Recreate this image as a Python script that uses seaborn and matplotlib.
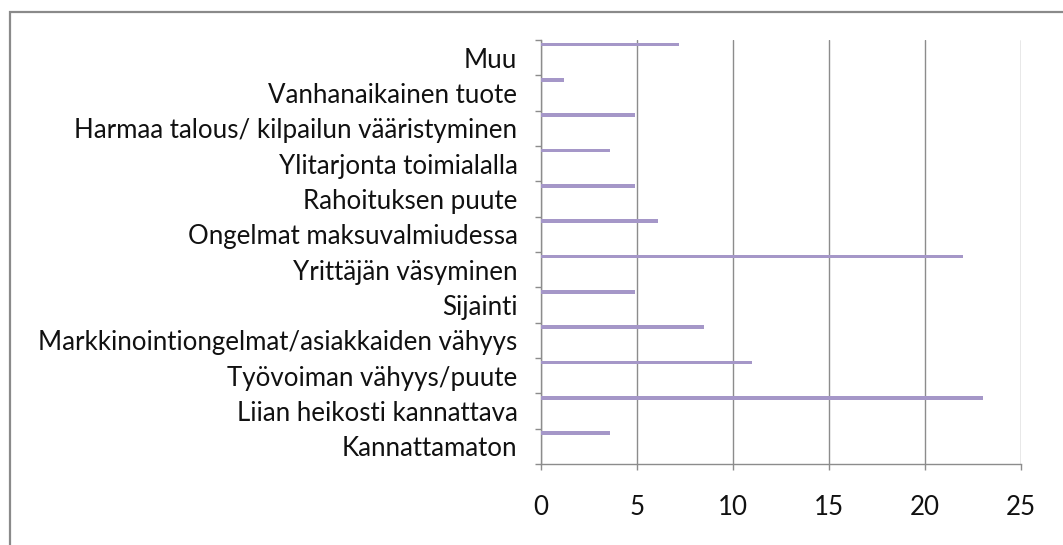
import matplotlib
matplotlib.use("Agg")
import matplotlib.pyplot as plt
from matplotlib.patches import Rectangle
from matplotlib.ticker import FixedLocator, NullFormatter
import pandas as pd
import seaborn as sns

# Reasons for closing down the business (share of respondents, %)
categories = [
    "Muu",
    "Vanhanaikainen tuote",
    "Harmaa talous/ kilpailun vääristyminen",
    "Ylitarjonta toimialalla",
    "Rahoituksen puute",
    "Ongelmat maksuvalmiudessa",
    "Yrittäjän väsyminen",
    "Sijainti",
    "Markkinointiongelmat/asiakkaiden vähyys",
    "Työvoiman vähyys/puute",
    "Liian heikosti kannattava",
    "Kannattamaton",
]
values = [7.2, 1.2, 4.9, 3.6, 4.9, 6.1, 22.0, 4.9, 8.5, 11.0, 23.0, 3.6]
x_ticks = [0, 5, 10, 15, 20, 25]

sns.set_theme(style="white")
plt.rcParams["font.family"] = ["Lato", "DejaVu Sans"]

BAR_COLOR = "#A597C8"
GRID_COLOR = "#8C8C8C"
TEXT_COLOR = "#111111"
FONT_SIZE = 18.6

W, H = 1063, 545
fig = plt.figure(figsize=(W / 100, H / 100), dpi=100)
fig.patch.set_facecolor("white")

# outer chart frame (only the top and left edges fall inside the image)
fig.patches.append(Rectangle((9.5 / W, -0.2), 2.0, 1.2 - 11.5 / H,
                             transform=fig.transFigure, fill=False,
                             edgecolor="#8A8A8A", linewidth=1.6, zorder=0))

left, right = 541 / W, 1021 / W
top, bottom = 1 - 40 / H, 1 - 464 / H
ax = fig.add_axes([left, bottom, right - left, top - bottom])

df = pd.DataFrame({"reason": categories, "share": values})
sns.barplot(data=df, x="share", y="reason", order=categories, orient="h",
            color=BAR_COLOR, width=0.1, linewidth=0, saturation=1,
            ax=ax, zorder=3)

n = len(categories)
off = 0.13  # bars sit just beneath each category boundary
ax.set_ylim(n - off, -off)
ax.set_xlim(0, 25)

# category labels centred in each band; tick marks on band boundaries
ax.yaxis.set_major_locator(FixedLocator([i + 0.5 - off for i in range(n)]))
ax.set_yticklabels(categories)
ax.yaxis.set_minor_locator(FixedLocator([k - off for k in range(n + 1)]))
ax.yaxis.set_minor_formatter(NullFormatter())
ax.tick_params(axis="y", which="major", length=0, pad=17,
               labelsize=FONT_SIZE, labelcolor=TEXT_COLOR)
ax.tick_params(axis="y", which="minor", left=True, length=4.5,
               width=1, color=GRID_COLOR, direction="out")

ax.set_xticks(x_ticks)
ax.set_xticklabels([str(t) for t in x_ticks])
ax.tick_params(axis="x", which="major", bottom=True, length=4.5, width=1,
               color=GRID_COLOR, direction="out", pad=18,
               labelsize=FONT_SIZE, labelcolor=TEXT_COLOR)

ax.grid(axis="x", color=GRID_COLOR, linewidth=1, zorder=0)
ax.grid(axis="y", visible=False)
ax.set_axisbelow(True)
for side in ("top", "right"):
    ax.spines[side].set_visible(False)
for side in ("left", "bottom"):
    ax.spines[side].set_color(GRID_COLOR)
    ax.spines[side].set_linewidth(1)
ax.set_xlabel("")
ax.set_ylabel("")
ax.set_facecolor("white")

fig.savefig("out.png", dpi=100, facecolor="white")
